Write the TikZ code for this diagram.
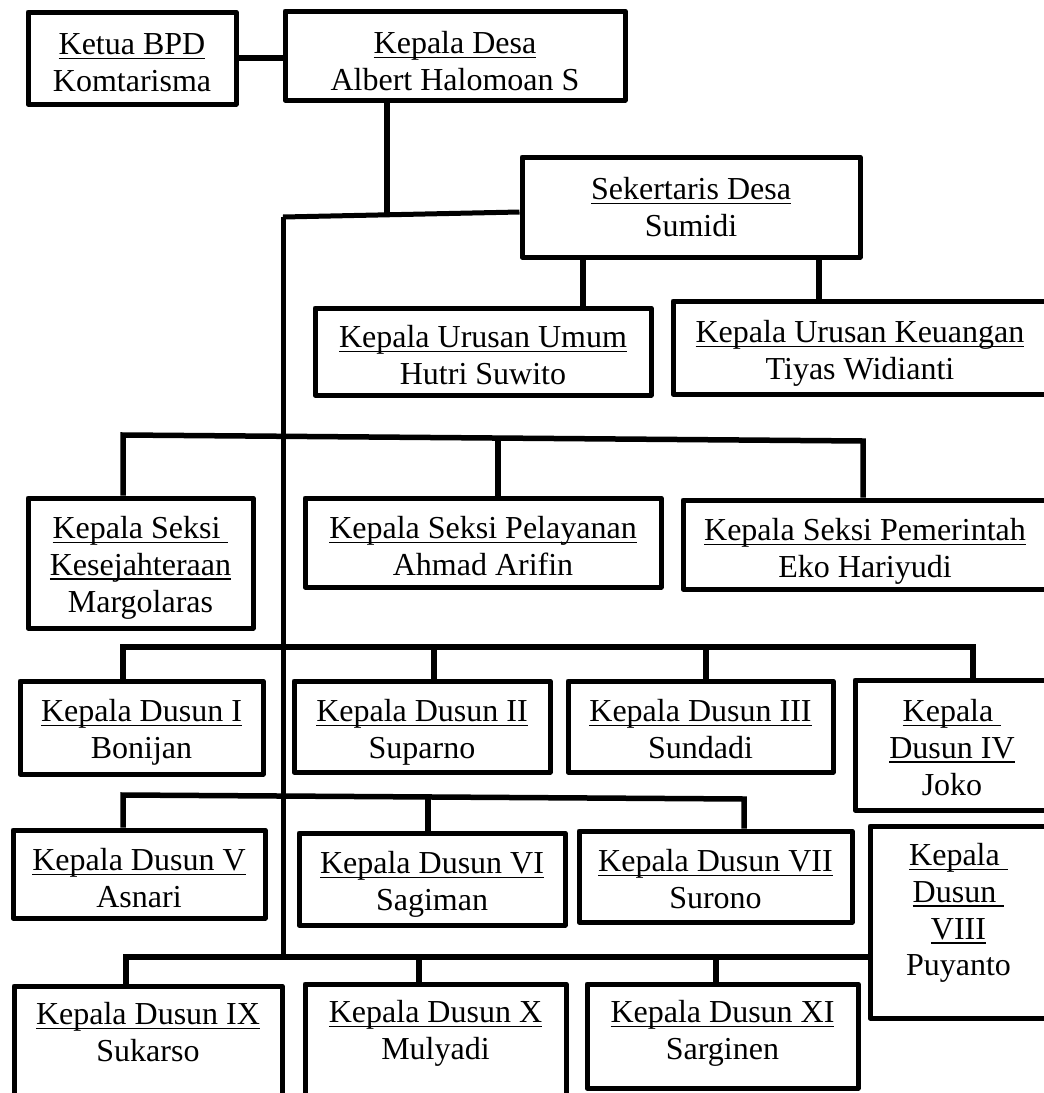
\documentclass[tikz,border=0pt]{standalone}
\usepackage{fontspec}
\setmainfont{Liberation Serif}
\newcommand{\undl}[1]{\setbox0\hbox{#1}\rlap{\rule[-5pt]{\wd0}{1.8pt}}\box0}
\tikzset{
  boxst/.style={draw, line width=5pt, line join=round, inner sep=0pt},
  txt/.style={inner sep=0pt, align=center, font=\fontsize{32}{36.8}\selectfont},
  conn/.style={line width=5.5pt},
}
% #1 name, #2 x1, #3 y1, #4 x2, #5 y2, #6 text offset from top, #7 text
\newcommand{\obox}[7]{%
  \node[boxst, minimum width={#4pt-#2pt}, minimum height={#5pt-#3pt}] (#1) at ({(#2+#4)/2},{(#3+#5)/2}) {};
  \node[txt, anchor=north] (#1-t) at ([yshift=-#6pt]#1.north) {\strut#7};
}
\begin{document}
\begin{tikzpicture}[x=1pt,y=-1pt]
\useasboundingbox (0,0) rectangle (1044,1093);
\clip (0,0) rectangle (1044,1093);

% boxes
\obox{ketua}{28}{12}{236}{104}{19}{\undl{Ketua BPD}\\Komtarisma}
\obox{desa}{285}{11}{625}{100}{19}{\undl{Kepala Desa}\\Albert Halomoan S}
\obox{sek}{522}{157}{860}{257}{19}{\undl{Sekertaris Desa}\\Sumidi}
\obox{umum}{315}{308}{651}{395}{16}{\undl{Kepala Urusan Umum}\\Hutri Suwito}
\obox{keu}{673}{301}{1047}{394}{18}{\undl{Kepala Urusan Keuangan}\\Tiyas Widianti}
\obox{kes}{28}{498}{253}{628}{17}{\undl{Kepala Seksi\ }\\\undl{Kesejahteraan}\\Margolaras}
\obox{pel}{305}{498}{661}{587}{17}{\undl{Kepala Seksi Pelayanan}\\Ahmad Arifin}
\obox{pem}{683}{500}{1047}{589}{17}{\undl{Kepala Seksi Pemerintah}\\Eko Hariyudi}
\obox{d1}{20}{681}{263}{774}{17}{\undl{Kepala Dusun I}\\Bonijan}
\obox{d2}{294}{681}{550}{772}{17}{\undl{Kepala Dusun II}\\Suparno}
\obox{d3}{568}{681}{833}{772}{17}{\undl{Kepala Dusun III}\\Sundadi}
\obox{d4}{855}{680}{1049}{810}{18}{\undl{Kepala\ }\\\undl{Dusun IV}\\Joko}
\obox{d5}{13}{830}{265}{918}{17}{\undl{Kepala Dusun V}\\Asnari}
\obox{d6}{299}{833}{565}{925}{17}{\undl{Kepala Dusun VI}\\Sagiman}
\obox{d7}{579}{831}{852}{922}{17}{\undl{Kepala Dusun VII}\\Surono}
\obox{d8}{870}{826}{1047}{1018}{16}{\undl{Kepala\ }\\\undl{Dusun\ }\\\undl{VIII}\\Puyanto}
\obox{d9}{14}{986}{282}{1110}{15}{\undl{Kepala Dusun IX}\\Sukarso}
\obox{d10}{305}{984}{566}{1110}{15}{\undl{Kepala Dusun X}\\Mulyadi}
\obox{d11}{587}{984}{858}{1088}{15}{\undl{Kepala Dusun XI}\\Sarginen}

% junction coordinates
\coordinate (trunkTop) at (283,217);
\coordinate (trunkBot) at (283,957);
\coordinate (dj) at (387,215);
\coordinate (su) at (583,0);
\coordinate (sk) at (819,0);
\coordinate (b2L) at (123,435);
\coordinate (b2M) at (498,438);
\coordinate (b2R) at (863,441);
\coordinate (b3L) at (123,647);
\coordinate (b3a) at (434,647);
\coordinate (b3b) at (706,647);
\coordinate (b3R) at (973,647);
\coordinate (b4L) at (123,795);
\coordinate (b4M) at (428,797);
\coordinate (b4R) at (744,799);
\coordinate (b5L) at (126,957);
\coordinate (b5a) at (419,957);
\coordinate (b5b) at (716,957);

% connectors
\draw[conn] (ketua.east) -- (ketua.east -| desa.west);
\draw[conn] (desa.south -| dj) -- (dj);
\draw[conn, line width=5pt] (trunkTop) -- ([yshift=-5pt]sek.west);
\draw[conn, line width=5pt] (trunkTop) -- (trunkBot);
\draw[conn] (sek.south -| su) -- (umum.north -| su);
\draw[conn] (sek.south -| sk) -- (keu.north -| sk);

\draw[conn] (kes.north -| b2L) -- (b2L) -- (b2R) -- (pem.north -| b2R);
\draw[conn] (b2M) -- (pel.north -| b2M);

\draw[conn] (d1.north -| b3L) -- (b3L) -- (b3R) -- (d4.north -| b3R);
\draw[conn] (b3a) -- (d2.north -| b3a);
\draw[conn] (b3b) -- (d3.north -| b3b);

\draw[conn] (d5.north -| b4L) -- (b4L) -- (b4R) -- (d7.north -| b4R);
\draw[conn] (b4M) -- (d6.north -| b4M);

\draw[conn] (d9.north -| b5L) -- (b5L) -- (b5L -| d8.west);
\draw[conn] (b5a) -- (d10.north -| b5a);
\draw[conn] (b5b) -- (d11.north -| b5b);
\end{tikzpicture}
\end{document}
